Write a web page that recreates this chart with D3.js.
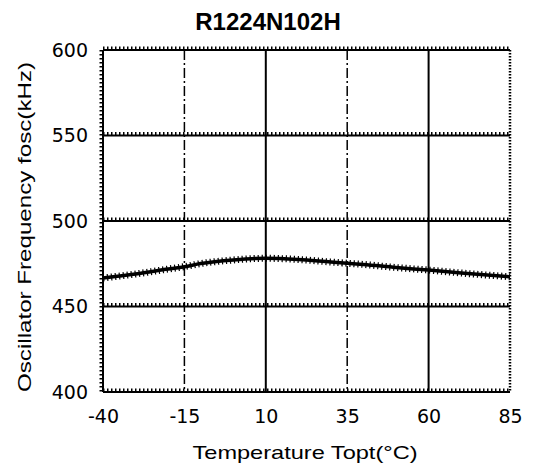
<!DOCTYPE html>
<html><head><meta charset="utf-8">
<script src="https://cdn.jsdelivr.net/npm/d3@7"></script>
<style>body{margin:0;background:#fff}svg{display:block}</style>
</head><body>
<script>
const title = "R1224N102H";
const xLabel = "Temperature Topt(°C)";
const yLabel = "Oscillator Frequency fosc(kHz)";
const xTicks = [-40, -15, 10, 35, 60, 85];
const yTicks = [400, 450, 500, 550, 600];
const temps = [-40, -30, -20, -15, -10, 0, 10, 20, 30, 35, 40, 50, 60, 70, 85];
const freqs = [466.7, 469.0, 471.9, 473.3, 475.1, 477.2, 478.2, 477.5, 476.0, 475.3, 474.6, 472.8, 471.3, 469.6, 467.4];
const dashedX = [-15, 35];
const solidX = [10, 60];

const W = 535, H = 465;
const m = {l: 103, r: 25, t: 50, b: 73};
const svg = d3.select("body").append("svg").attr("width", W).attr("height", H);
const x = d3.scaleLinear().domain([-40, 85]).range([m.l, W - m.r]);
const y = d3.scaleLinear().domain([400, 600]).range([H - m.b, m.t]);

// horizontal gridlines (with little tick hatching above)
yTicks.forEach(v => {
  svg.append("line").attr("x1", x(-40)).attr("x2", x(85)).attr("y1", y(v)).attr("y2", y(v))
    .attr("stroke", "#000").attr("stroke-width", 2);
  svg.append("line").attr("x1", x(-40)).attr("x2", x(85)).attr("y1", y(v) - 2).attr("y2", y(v) - 2)
    .attr("stroke", "#000").attr("stroke-width", 3).attr("stroke-dasharray", "1.5,2.5");
});
// vertical gridlines
dashedX.forEach(v => {
  svg.append("line").attr("x1", x(v)).attr("x2", x(v)).attr("y1", y(600)).attr("y2", y(400))
    .attr("stroke", "#000").attr("stroke-width", 1.5).attr("stroke-dasharray", "10,3,2,3");
});
solidX.forEach(v => {
  svg.append("line").attr("x1", x(v)).attr("x2", x(v)).attr("y1", y(600)).attr("y2", y(400))
    .attr("stroke", "#000").attr("stroke-width", 2);
});
// left border with hatching on the outside
svg.append("line").attr("x1", x(-40)).attr("x2", x(-40)).attr("y1", y(600)).attr("y2", y(400))
  .attr("stroke", "#000").attr("stroke-width", 2);
svg.append("line").attr("x1", x(-40) - 2).attr("x2", x(-40) - 2).attr("y1", y(600)).attr("y2", y(400))
  .attr("stroke", "#000").attr("stroke-width", 3).attr("stroke-dasharray", "1.5,2.5");
// right border dotted
svg.append("line").attr("x1", x(85)).attr("x2", x(85)).attr("y1", y(600)).attr("y2", y(400))
  .attr("stroke", "#000").attr("stroke-width", 2.5).attr("stroke-dasharray", "1.5,1.5");

// curve
const line = d3.line().x((d, i) => x(temps[i])).y(d => y(d)).curve(d3.curveMonotoneX);
svg.append("path").datum(freqs).attr("d", line).attr("fill", "none")
  .attr("stroke", "#000").attr("stroke-width", 3.5);
svg.append("path").datum(freqs).attr("d", line).attr("fill", "none")
  .attr("stroke", "#000").attr("stroke-width", 7).attr("stroke-dasharray", "1.2,2.8");

// axes
const fontTick = "'DejaVu Sans', sans-serif";
const fmt = d => String(d);
const gx = svg.append("g").attr("transform", `translate(0,${y(400)})`)
  .call(d3.axisBottom(x).tickValues(xTicks).tickSize(0).tickPadding(18).tickFormat(fmt));
gx.select(".domain").remove();
gx.selectAll("text").attr("font-family", fontTick).attr("font-size", 19).attr("fill", "#000");
const gy = svg.append("g").attr("transform", `translate(${x(-40)},0)`)
  .call(d3.axisLeft(y).tickValues(yTicks).tickSize(0).tickPadding(15).tickFormat(fmt));
gy.select(".domain").remove();
gy.selectAll("text").attr("font-family", fontTick).attr("font-size", 19).attr("fill", "#000");

// title
svg.append("text").attr("x", 268).attr("y", 30).attr("text-anchor", "middle")
  .attr("font-family", "'Liberation Sans', Arial, sans-serif").attr("font-weight", "bold")
  .attr("font-size", 24).text(title);
// x label
svg.append("text").attr("x", 305).attr("y", 459).attr("text-anchor", "middle")
  .attr("font-family", "'Liberation Sans', Arial, sans-serif").attr("font-size", 19)
  .attr("textLength", 225).attr("lengthAdjust", "spacingAndGlyphs").text(xLabel);
// y label
svg.append("text").attr("transform", "translate(31,227) rotate(-90)").attr("text-anchor", "middle")
  .attr("font-family", "'Liberation Sans', Arial, sans-serif").attr("font-size", 19)
  .attr("textLength", 330).attr("lengthAdjust", "spacingAndGlyphs").text(yLabel);
</script>
</body></html>
